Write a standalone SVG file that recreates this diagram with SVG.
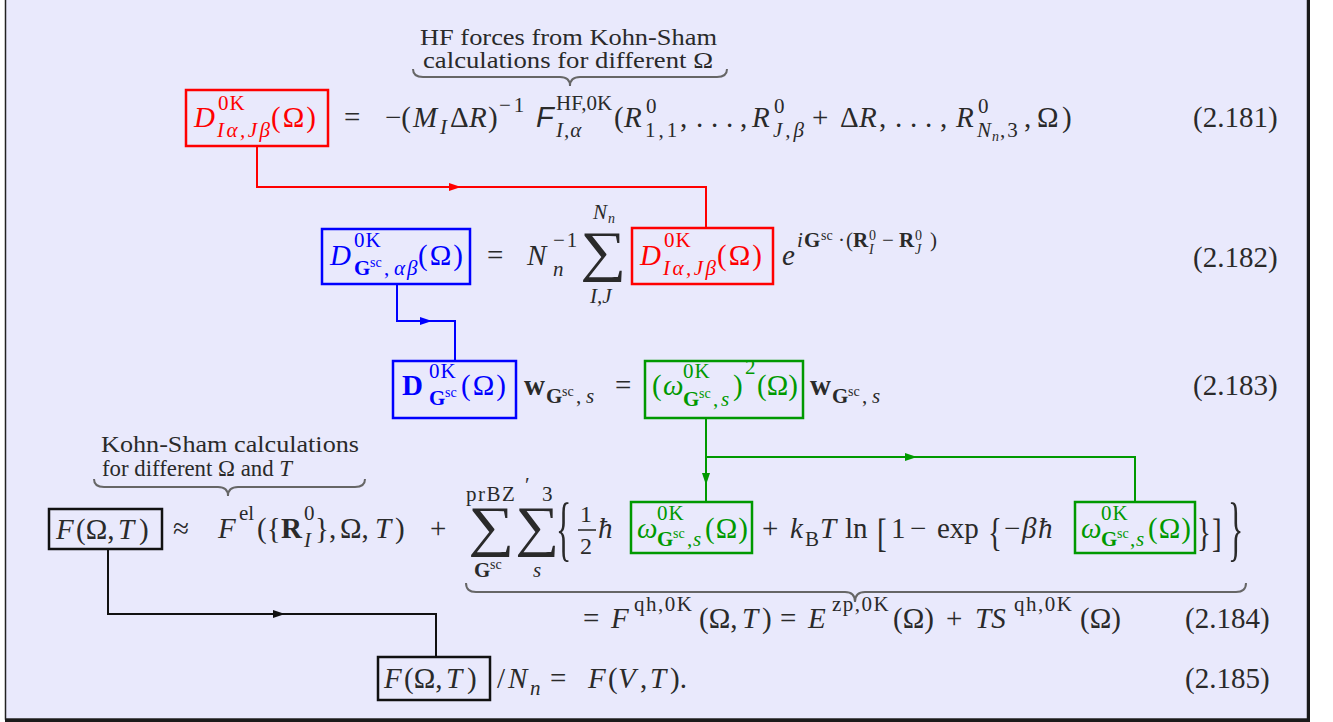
<svg xmlns="http://www.w3.org/2000/svg" width="1333" height="722" viewBox="0 0 1333 722">
<defs>
<style>
text{font-family:"Liberation Serif",serif;fill:#2a2a2a;font-size:29px}
.i{font-style:italic}
.b{font-weight:bold}
.s{font-size:21px}
.ss{font-size:14px}
.lbl{font-size:23px}
.sf{font-family:"Liberation Sans",sans-serif;font-style:italic}
.big{font-size:56px}
.om{letter-spacing:2px}
.k{letter-spacing:1px}
.sp{letter-spacing:1.5px}
.red text{fill:#ff0000}
.blue text{fill:#0000ff}
.green text{fill:#009900}
.bx{fill:none;stroke-width:2.5}
.red .bx{stroke:#ff0000}
.blue .bx{stroke:#0000ff}
.green .bx{stroke:#009900}
.blk .bx{stroke:#111}
.brace{fill:none;stroke:#666;stroke-width:2}
.cn{fill:none;stroke-width:2}
</style>
<marker id="arR" viewBox="0 0 12 8" refX="12" refY="4" markerWidth="12" markerHeight="8" markerUnits="userSpaceOnUse" orient="auto"><path d="M0,0 L12,4 L0,8 Z" fill="#ff0000"/></marker>
<marker id="arB" viewBox="0 0 12 8" refX="12" refY="4" markerWidth="12" markerHeight="8" markerUnits="userSpaceOnUse" orient="auto"><path d="M0,0 L12,4 L0,8 Z" fill="#0000ff"/></marker>
<marker id="arG" viewBox="0 0 12 8" refX="12" refY="4" markerWidth="12" markerHeight="8" markerUnits="userSpaceOnUse" orient="auto"><path d="M0,0 L12,4 L0,8 Z" fill="#009900"/></marker>
<marker id="arK" viewBox="0 0 12 8" refX="12" refY="4" markerWidth="12" markerHeight="8" markerUnits="userSpaceOnUse" orient="auto"><path d="M0,0 L12,4 L0,8 Z" fill="#111"/></marker>
</defs>
<g id="frame">
<rect x="0" y="0" width="1333" height="722" fill="#ffffff"/>
<rect x="5.5" y="-5" width="1302" height="724" fill="#e9e9fc" stroke="#222" stroke-width="1.5"/>
<line x1="1308.5" y1="0" x2="1308.5" y2="722" stroke="#1a1a1a" stroke-width="3"/>
<line x1="5" y1="720.5" x2="1310" y2="720.5" stroke="#1a1a1a" stroke-width="3"/>
</g>

<g id="connectors">
<path class="cn" stroke="#ff0000" d="M257,146 V187 H461" marker-end="url(#arR)"/>
<path class="cn" stroke="#ff0000" d="M460,187 H706 V228"/>
<path class="cn" stroke="#0000ff" d="M397,284 V321 H432" marker-end="url(#arB)"/>
<path class="cn" stroke="#0000ff" d="M431,321 H455 V360"/>
<path class="cn" stroke="#009900" d="M706,418 V485" marker-end="url(#arG)"/>
<path class="cn" stroke="#009900" d="M706,484 V501"/>
<path class="cn" stroke="#009900" d="M706,457 H917" marker-end="url(#arG)"/>
<path class="cn" stroke="#009900" d="M916,457 H1135 V501"/>
<path class="cn" stroke="#111" d="M108,549 V614 H285" marker-end="url(#arK)"/>
<path class="cn" stroke="#111" d="M284,614 H436 V656"/>
</g>

<g id="note-hf">
<text class="lbl" x="420" y="45" textLength="297" lengthAdjust="spacingAndGlyphs">HF forces from Kohn-Sham</text>
<text class="lbl" x="423" y="68" textLength="290" lengthAdjust="spacingAndGlyphs">calculations for different Ω</text>
<path class="brace" d="M413,69 Q413,77 423,77 L560,77 Q570,77 570,86 Q570,77 580,77 L717,77 Q727,77 727,69"/>
</g>

<g id="eq181">
<g id="n-Dij-1" class="red">
<rect class="bx" x="186" y="90" width="142" height="56"/>
<text class="i" x="194" y="127">D</text>
<text class="s k" x="218" y="110">0K</text>
<text class="s i" x="217" y="137" style="letter-spacing:2.5px">Iα,Jβ</text>
<text class="om" x="271" y="127">(Ω)</text>
</g>
<text x="344" y="127">=</text>
<text x="385" y="127">−(</text>
<text class="i" x="413" y="127">M</text>
<text class="s i" x="440" y="134">I</text>
<text x="450" y="127">Δ</text>
<text class="i" x="469" y="127">R</text>
<text x="488" y="127">)</text>
<text class="s" x="499" y="112" style="letter-spacing:3px">−1</text>
<text class="sf" x="536" y="127">F</text>
<text class="s" x="556" y="110">HF,0K</text>
<text class="s i" x="556" y="137" style="letter-spacing:1px">I,α</text>
<text x="614" y="127">(</text>
<text class="i" x="624" y="127">R</text>
<text class="s" x="646" y="113">0</text>
<text class="s" x="645" y="137" style="letter-spacing:3px">1,1</text>
<text x="680" y="127">,</text>
<text x="696" y="127">.</text>
<text x="711" y="127">.</text>
<text x="726" y="127">.</text>
<text x="740" y="127">,</text>
<text class="i" x="752" y="127">R</text>
<text class="s" x="774" y="113">0</text>
<text class="s i" x="773" y="137" style="letter-spacing:3px">J,β</text>
<text x="812" y="127">+</text>
<text x="840" y="127">Δ</text>
<text class="i" x="859" y="127">R</text>
<text x="879" y="127">,</text>
<text x="895" y="127">.</text>
<text x="910" y="127">.</text>
<text x="925" y="127">.</text>
<text x="940" y="127">,</text>
<text class="i" x="956" y="127">R</text>
<text class="s" x="978" y="113">0</text>
<text class="s i" x="977" y="137">N</text>
<text class="ss i" x="992" y="141">n</text>
<text class="s" x="1000" y="137" style="letter-spacing:2px">,3</text>
<text x="1024" y="127">,</text>
<text x="1037" y="127">Ω</text>
<text x="1062" y="127">)</text>
<text x="1193" y="127">(2.181)</text>
</g>

<g id="eq182">
<g id="n-DG-1" class="blue">
<rect class="bx" x="322" y="229" width="148" height="55"/>
<text class="i" x="330" y="265">D</text>
<text class="s k" x="354" y="247">0K</text>
<text class="s b" x="354" y="275">G</text>
<text class="ss" x="370" y="267">sc</text>
<text class="s" x="384" y="275">,</text>
<text class="s i" x="394" y="275" style="letter-spacing:2px">αβ</text>
<text class="om" x="418" y="265">(Ω)</text>
</g>
<text x="487" y="265">=</text>
<text class="i" x="527" y="265">N</text>
<text class="s" x="553" y="247" style="letter-spacing:2px">−1</text>
<text class="s i" x="553" y="276">n</text>
<text class="big" x="580" y="270" textLength="46" lengthAdjust="spacingAndGlyphs">∑</text>
<text class="s i" x="593" y="219">N</text>
<text class="ss i" x="608" y="223">n</text>
<text class="s i" x="590" y="303">I,J</text>
<g id="n-Dij-2" class="red">
<rect class="bx" x="632" y="228" width="141" height="56"/>
<text class="i" x="640" y="265">D</text>
<text class="s k" x="664" y="247">0K</text>
<text class="s i" x="663" y="275" style="letter-spacing:2.5px">Iα,Jβ</text>
<text class="om" x="717" y="265">(Ω)</text>
</g>
<text class="i" x="782" y="265">e</text>
<text class="s i" x="797" y="247">i</text>
<text class="s b" x="804" y="247">G</text>
<text class="ss" x="821" y="240">sc</text>
<text class="s" x="838" y="247">·</text>
<text class="s" x="846" y="247">(</text>
<text class="s b" x="853" y="247">R</text>
<text class="ss" x="869" y="240">0</text>
<text class="ss i" x="869" y="254">I</text>
<text class="s" x="882" y="247">−</text>
<text class="s b" x="899" y="247">R</text>
<text class="ss" x="915" y="240">0</text>
<text class="ss i" x="915" y="254">J</text>
<text class="s" x="930" y="247">)</text>
<text x="1193" y="267">(2.182)</text>
</g>

<g id="eq183">
<g id="n-DG-2" class="blue">
<rect class="bx" x="393" y="361" width="123" height="57"/>
<text class="b" x="402" y="395">D</text>
<text class="s k" x="429" y="378">0K</text>
<text class="s b" x="429" y="405">G</text>
<text class="ss" x="445" y="397">sc</text>
<text class="om" x="461" y="395">(Ω)</text>
</g>
<text class="b" x="524" y="395">w</text>
<text class="s b" x="546" y="403">G</text>
<text class="ss" x="562" y="396">sc</text>
<text class="s" x="576" y="403">,</text>
<text class="s i" x="586" y="403">s</text>
<text x="615" y="395">=</text>
<g id="n-omega2" class="green">
<rect class="bx" x="645" y="361" width="158" height="57"/>
<text x="652" y="395">(</text>
<text class="i" x="663" y="395">ω</text>
<text class="s k" x="683" y="378">0K</text>
<text class="s b" x="683" y="406">G</text>
<text class="ss" x="699" y="398">sc</text>
<text class="s" x="713" y="406">,</text>
<text class="s i" x="721" y="406">s</text>
<text x="733" y="395">)</text>
<text class="s" x="745" y="374">2</text>
<text x="757" y="395">(Ω)</text>
</g>
<text class="b" x="810" y="395">w</text>
<text class="s b" x="832" y="403">G</text>
<text class="ss" x="848" y="396">sc</text>
<text class="s" x="862" y="403">,</text>
<text class="s i" x="872" y="403">s</text>
<text x="1193" y="395">(2.183)</text>
</g>

<g id="note-ks">
<text class="lbl" x="101" y="452" textLength="258" lengthAdjust="spacingAndGlyphs">Kohn-Sham calculations</text>
<text class="lbl" x="102" y="476" textLength="190" lengthAdjust="spacingAndGlyphs">for different Ω and <tspan class="i">T</tspan></text>
<path class="brace" d="M94,479 Q94,487 104,487 L218,487 Q228,487 228,496 Q228,487 238,487 L355,487 Q365,487 365,479"/>
</g>

<g id="eq184">
<g id="n-F-1" class="blk">
<rect class="bx" x="49" y="509" width="113" height="40"/>
<text class="i" x="56" y="539">F</text>
<text x="76" y="539">(Ω,</text>
<text class="i" x="118" y="539">T</text>
<text x="139" y="539">)</text>
</g>
<text x="173" y="538">≈</text>
<text class="i" x="218" y="538">F</text>
<text class="s" x="239" y="520">el</text>
<text x="257" y="538">({</text>
<text class="b" x="281" y="538">R</text>
<text class="s" x="304" y="520">0</text>
<text class="s i" x="304" y="547">I</text>
<text x="315" y="538">},</text>
<text x="340" y="538">Ω,</text>
<text class="i" x="375" y="538">T</text>
<text x="395" y="538">)</text>
<text x="430" y="538">+</text>
<text class="big" x="468" y="545" textLength="46" lengthAdjust="spacingAndGlyphs">∑</text>
<text class="big" x="515" y="545" textLength="44" lengthAdjust="spacingAndGlyphs">∑</text>
<text class="s sp" x="466" y="501">prBZ</text>
<text class="s" x="525" y="492">′</text>
<text class="s" x="542" y="501">3</text>
<text class="s b" x="474" y="577">G</text>
<text class="ss" x="490" y="569">sc</text>
<text class="s i" x="533" y="577">s</text>
<text transform="translate(556,552) scale(1.1,2.5)">{</text>
<text style="font-size:24px" x="580" y="522">1</text>
<line x1="578" y1="530" x2="596" y2="530" stroke="#222" stroke-width="1.5"/>
<text style="font-size:24px" x="580" y="554">2</text>
<text class="i" x="598" y="538">ħ</text>
<g id="n-omega-1" class="green">
<rect class="bx" x="631" y="502" width="121" height="51"/>
<text class="i" x="637" y="538">ω</text>
<text class="s k" x="657" y="520">0K</text>
<text class="s b" x="657" y="546">G</text>
<text class="ss" x="673" y="538">sc</text>
<text class="s" x="687" y="546">,</text>
<text class="s i" x="693" y="546">s</text>
<text class="k" x="705" y="538">(Ω)</text>
</g>
<text x="762" y="538">+</text>
<text class="i" x="790" y="538">k</text>
<text class="s" x="805" y="546">B</text>
<text class="i" x="820" y="538">T</text>
<text x="845" y="538">ln</text>
<text transform="translate(877,547) scale(1,1.35)">[</text>
<text x="891" y="538">1</text>
<text x="910" y="538">−</text>
<text x="937" y="538">exp</text>
<text transform="translate(988,546) scale(1,1.35)">{</text>
<text x="1004" y="538">−</text>
<text class="i" x="1022" y="538">β</text>
<text class="i" x="1038" y="538">ħ</text>
<g id="n-omega-2" class="green">
<rect class="bx" x="1075" y="502" width="120" height="51"/>
<text class="i" x="1081" y="538">ω</text>
<text class="s k" x="1101" y="520">0K</text>
<text class="s b" x="1101" y="546">G</text>
<text class="ss" x="1117" y="538">sc</text>
<text class="s" x="1130" y="546">,</text>
<text class="s i" x="1136" y="546">s</text>
<text class="k" x="1148" y="538">(Ω)</text>
</g>
<text transform="translate(1197,546) scale(1,1.35)">}</text>
<text transform="translate(1212,547) scale(1,1.35)">]</text>
<text transform="translate(1228,552) scale(1.1,2.5)">}</text>
<path class="brace" d="M466,583 Q466,592 476,592 L845,592 Q855,592 855,602 Q855,592 865,592 L1236,592 Q1246,592 1246,583"/>
<text x="583" y="628">=</text>
<text class="i" x="611" y="628">F</text>
<text class="s sp" x="634" y="611">qh,0K</text>
<text x="699" y="628">(Ω,</text>
<text class="i" x="742" y="628">T</text>
<text x="762" y="628">)</text>
<text x="780" y="628">=</text>
<text class="i" x="808" y="628">E</text>
<text class="s sp" x="832" y="611">zp,0K</text>
<text x="893" y="628">(Ω)</text>
<text x="946" y="628">+</text>
<text class="i" x="975" y="628">TS</text>
<text class="s sp" x="1014" y="611">qh,0K</text>
<text x="1080" y="628">(Ω)</text>
<text x="1185" y="628">(2.184)</text>
</g>

<g id="eq185">
<g id="n-F-2" class="blk">
<rect class="bx" x="378" y="657" width="112" height="43"/>
<text class="i" x="384" y="688">F</text>
<text x="404" y="688">(Ω,</text>
<text class="i" x="446" y="688">T</text>
<text x="467" y="688">)</text>
</g>
<text x="497" y="688">/</text>
<text class="i" x="508" y="688">N</text>
<text class="s i" x="530" y="695">n</text>
<text x="550" y="688">=</text>
<text class="i" x="588" y="688">F</text>
<text x="608" y="688">(</text>
<text class="i" x="618" y="688">V</text>
<text x="640" y="688">,</text>
<text class="i" x="650" y="688">T</text>
<text x="670" y="688">).</text>
<text x="1185" y="688">(2.185)</text>
</g>
</svg>
